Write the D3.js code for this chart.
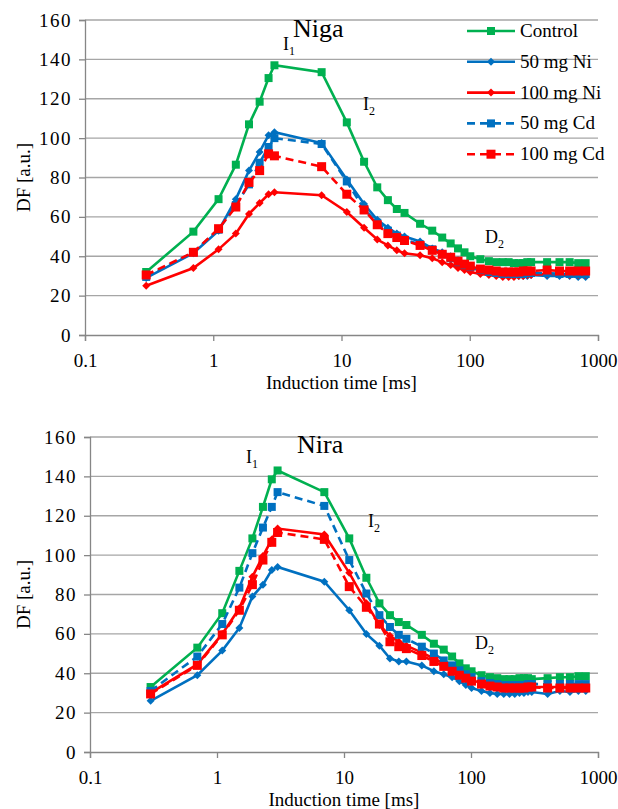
<!DOCTYPE html>
<html>
<head>
<meta charset="utf-8">
<script src="https://cdn.jsdelivr.net/npm/d3@7"></script>
<style>
    body { margin: 0; background: #fff; }
</style>
</head>
<body>
<svg id="scene" width="618" height="809"></svg>
<script>
// induction times [ms]
const times = [0.3, 0.7, 1.1, 1.5, 1.9, 2.3, 2.7, 3, 7, 11, 15, 19, 23, 27, 31,
    41, 51, 61, 71, 81, 91, 101, 121, 141, 161, 181, 201, 221, 241, 261, 281, 301,
    401, 501, 601, 701, 801];

const seriesNames = ["Control", "50 mg Ni", "100 mg Ni", "50 mg Cd", "100 mg Cd"];

// Niga
const nigaControl = [32, 52.5, 69, 86.5, 107, 118.5, 130.5, 137, 133.5, 108, 88, 75, 68.5, 64, 62,
    56.5, 53, 49.5, 46.5, 44, 42, 40, 38.5, 37.5, 37, 37, 37, 36.5, 36.5, 36.5, 37, 37,
    37, 37, 37, 36.5, 36.5];
const nigaNi50 = [29, 41.5, 53, 69, 83.5, 93, 101.5, 103, 97.5, 79, 66.5, 58.5, 54.5, 51.5, 50,
    47.5, 44, 42, 40, 38, 36, 34.5, 32.5, 31, 30.5, 30, 30, 30, 30, 30, 30, 30.5,
    30, 30, 30, 29.5, 29.5];
const nigaNi100 = [25, 34, 43.5, 51.5, 61.5, 67, 71.5, 72.5, 71, 62.5, 54.5, 48.5, 45.5, 43, 41.5,
    40.5, 39, 37, 35.5, 34, 33, 32, 31, 30.5, 30, 29.5, 29.5, 29.5, 30, 30, 30.5, 30.5,
    31, 31, 30.5, 30.5, 30.5];
const nigaCd50 = [29.5, 42, 53.5, 66, 76.5, 87.5, 95.5, 100, 97, 78, 64, 57, 53, 50.5, 48.5,
    46, 43.5, 41, 39, 37, 35.5, 34.5, 33, 32, 31.5, 31, 31, 31, 31, 31, 31.5, 31.5,
    31.5, 31, 31, 31, 31];
const nigaCd100 = [30.5, 42, 54, 65, 77.5, 83.5, 92, 91, 85.5, 71.5, 63.5, 56, 51.5, 49.5, 48,
    45.5, 43, 41, 39.5, 37.5, 36, 35, 33.5, 33, 32.5, 32, 32, 32, 32, 32.5, 32.5, 32.5,
    33, 32.5, 32.5, 32.5, 32.5];

// Nira
const niraControl = [33, 53, 70.5, 92, 108.5, 124.5, 138.5, 143, 132, 108.5, 88.5, 75.5, 69.5, 66, 64.5,
    59.5, 55, 52, 48.5, 45, 42.5, 41, 39, 38, 37.5, 37, 37, 37, 37.5, 37.5, 37.5, 37,
    37.5, 38, 38, 38.5, 38.5];
const niraNi50 = [26, 39, 51.5, 63, 79, 85, 92.5, 94, 86.5, 72, 60, 54, 47.5, 46, 46,
    44, 41, 39.5, 38, 36, 34, 32.5, 31, 30, 29.5, 29.5, 29.5, 29.5, 30, 30, 30.5, 30.5,
    29.5, 31, 30.5, 31, 31];
const niraNi100 = [30, 44.5, 60, 73, 89, 99.5, 108, 113.5, 110.5, 91, 75.5, 64.5, 59, 56, 54,
    50.5, 47.5, 45, 42.5, 40, 38, 36.5, 35, 34, 33.5, 33, 33, 33, 33, 33, 33, 33,
    33, 33, 33, 33, 33];
const niraCd50 = [31, 48.5, 65, 83.5, 101, 114, 124.5, 132, 125, 97.5, 80.5, 69.5, 63.5, 59.5, 57.5,
    53.5, 50, 46.5, 44, 41.5, 39.5, 38, 36, 35, 34.5, 34, 34, 34, 34, 34, 34.5, 34.5,
    34.5, 34.5, 34.5, 34.5, 34.5];
const niraCd100 = [29.5, 44, 59.5, 72, 85, 97.5, 106.5, 111.5, 108, 84, 73.5, 65, 56, 53.5, 52.5,
    49, 46, 43.5, 41, 39, 37.5, 36, 34.5, 33.5, 33, 32.5, 32.5, 32.5, 32.5, 32.5, 33, 33,
    32.5, 32.5, 32.5, 32.5, 32.5];

const yTicks = [0, 20, 40, 60, 80, 100, 120, 140, 160];
const xTicks = [0.1, 1, 10, 100, 1000];

const FONT = '"Liberation Serif", "Times New Roman", Times, serif';

// look of each series, same order as seriesNames
const seriesStyle = [
    { color: "#00b050", marker: "square", size: 8, dash: null },
    { color: "#0070c0", marker: "diamond", size: 4, dash: null },
    { color: "#ff0000", marker: "diamond", size: 4, dash: null },
    { color: "#0070c0", marker: "square", size: 8, dash: "8,5" },
    { color: "#ff0000", marker: "square", size: 9, dash: "8,5" },
];

const svg = d3.select("#scene");

drawPanel({
    left: 85, right: 598, top: 20, bottom: 335,
    title: "Niga", titleX: 293, titleY: 37,
    series: [nigaControl, nigaNi50, nigaNi100, nigaCd50, nigaCd100],
    notes: [
        { t: "I", sub: "1", x: 283, y: 50 },
        { t: "I", sub: "2", x: 363, y: 110 },
        { t: "D", sub: "2", x: 485, y: 243 },
    ],
    xLabelY: 389,
    legend: true,
});

drawPanel({
    left: 90, right: 598, top: 437, bottom: 752,
    title: "Nira", titleX: 297, titleY: 453,
    series: [niraControl, niraNi50, niraNi100, niraCd50, niraCd100],
    notes: [
        { t: "I", sub: "1", x: 246, y: 463 },
        { t: "I", sub: "2", x: 368, y: 527 },
        { t: "D", sub: "2", x: 475, y: 649 },
    ],
    xLabelY: 806,
    legend: false,
});

function drawPanel(p) {
    const g = svg.append("g");

    const x = d3.scaleLog().domain([0.1, 1000]).range([p.left, p.right]);
    const y = d3.scaleLinear().domain([0, 160]).range([p.bottom, p.top]);

    // horizontal grid
    g.append("g")
        .selectAll("line")
        .data(yTicks.filter((d) => d > 0))
        .enter()
        .append("line")
        .attr("x1", p.left)
        .attr("x2", p.right)
        .attr("y1", (d) => y(d))
        .attr("y2", (d) => y(d))
        .attr("stroke", "#a6a6a6")
        .attr("stroke-width", 1.3);

    // y axis
    const yAxis = g.append("g")
        .attr("transform", `translate(${p.left},0)`)
        .call(d3.axisLeft(y).tickValues(yTicks).tickSize(6).tickPadding(7).tickFormat(d3.format("d")));
    // x axis
    const xAxis = g.append("g")
        .attr("transform", `translate(0,${p.bottom})`)
        .call(d3.axisBottom(x).tickValues(xTicks).tickSize(6).tickPadding(13).tickFormat((d) => String(d)));

    [yAxis, xAxis].forEach((a) => {
        a.attr("font-family", null);
        a.select(".domain").attr("stroke", "#868686").attr("stroke-width", 1.3);
        a.selectAll(".tick line").attr("stroke", "#868686").attr("stroke-width", 1.3);
        a.selectAll("text")
            .style("font-family", FONT)
            .style("font-size", "19px")
            .attr("fill", "#000");
    });
    yAxis.selectAll("text").style("letter-spacing", "1.5px");

    // lines + markers
    p.series.forEach((vals, i) => {
        const st = seriesStyle[i];
        const pts = times.map((t, k) => [t, vals[k]]);
        const line = d3.line().x((d) => x(d[0])).y((d) => y(d[1]));

        g.append("path")
            .datum(pts)
            .attr("d", line)
            .attr("fill", "none")
            .attr("stroke", st.color)
            .attr("stroke-width", 2.6)
            .attr("stroke-dasharray", st.dash);

        drawMarkers(g, pts.map((d) => [x(d[0]), y(d[1])]), st);
    });

    // title
    addText(g, p.titleX, p.titleY, 26, p.title);

    // I1, I2, D2 notes
    p.notes.forEach((n) => {
        const t = addText(g, n.x, n.y, 18, n.t);
        t.append("tspan")
            .attr("dy", 5)
            .style("font-size", "12px")
            .text(n.sub);
    });

    // axis titles
    addText(g, 0, 0, 19, "DF [a.u.]")
        .attr("transform", `translate(30,${(p.top + p.bottom) / 2}) rotate(-90)`)
        .attr("text-anchor", "middle");

    addText(g, (p.left + p.right) / 2, p.xLabelY, 19, "Induction time [ms]")
        .attr("text-anchor", "middle");

    if (p.legend) drawLegend(g);
}

function addText(g, x, y, size, txt) {
    return g.append("text")
        .attr("x", x)
        .attr("y", y)
        .style("font-family", FONT)
        .style("font-size", size + "px")
        .attr("fill", "#000")
        .text(txt);
}

function drawMarkers(g, pts, st) {
    if (st.marker === "square") {
        g.append("g")
            .selectAll("rect")
            .data(pts)
            .enter()
            .append("rect")
            .attr("x", (d) => d[0] - st.size / 2)
            .attr("y", (d) => d[1] - st.size / 2)
            .attr("width", st.size)
            .attr("height", st.size)
            .attr("fill", st.color);
    } else {
        const s = st.size;
        g.append("g")
            .selectAll("path")
            .data(pts)
            .enter()
            .append("path")
            .attr("d", (d) => `M${d[0]},${d[1] - s}L${d[0] + s},${d[1]}L${d[0]},${d[1] + s}L${d[0] - s},${d[1]}Z`)
            .attr("fill", st.color);
    }
}

function drawLegend(g) {
    const lg = g.append("g");
    seriesNames.forEach((name, i) => {
        const st = seriesStyle[i];
        const yy = 31 + i * 30.8;
        lg.append("line")
            .attr("x1", 467)
            .attr("x2", 515)
            .attr("y1", yy)
            .attr("y2", yy)
            .attr("stroke", st.color)
            .attr("stroke-width", 2.6)
            .attr("stroke-dasharray", st.dash);
        drawMarkers(lg, [[491, yy]], st);
        addText(lg, 520, yy + 6, 19, name);
    });
}
</script>
</body>
</html>
